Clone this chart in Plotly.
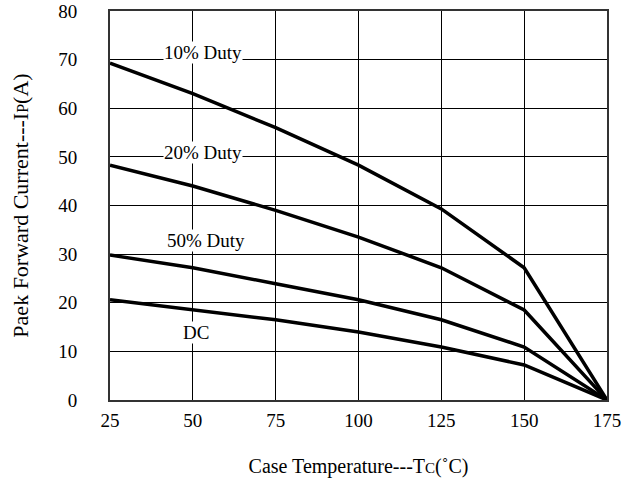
import plotly.graph_objects as go

temps = [25, 50, 75, 100, 125, 150, 175]
duty10 = [69.3, 63.0, 56.0, 48.3, 39.3, 27.2, 0]
duty20 = [48.3, 44.0, 39.0, 33.5, 27.2, 18.5, 0]
duty50 = [29.8, 27.2, 23.9, 20.6, 16.5, 10.9, 0]
dc = [20.6, 18.5, 16.5, 14.0, 10.9, 7.2, 0]

label_text = ["10% Duty", "20% Duty", "50% Duty", "DC"]
label_x = [53, 53, 54, 51]
label_y = [71.4, 51.0, 32.9, 13.9]

FONT = "Liberation Serif, Times New Roman, serif"

fig = go.Figure()
for ys in [duty10, duty20, duty50, dc]:
    fig.add_trace(go.Scatter(x=temps, y=ys, mode="lines",
                             line=dict(color="black", width=3.5),
                             showlegend=False, hoverinfo="skip"))

for t, x, y in zip(label_text, label_x, label_y):
    fig.add_annotation(x=x, y=y, text=t, showarrow=False,
                       font=dict(family=FONT, size=19, color="black"),
                       bgcolor="white", borderpad=0)

fig.update_layout(
    width=639, height=486,
    margin=dict(l=110, r=32, t=11, b=86),
    plot_bgcolor="white", paper_bgcolor="white",
    font=dict(family=FONT, size=19, color="black"),
)
fig.update_xaxes(range=[25, 175], tickvals=temps, showgrid=True,
                 gridcolor="black", gridwidth=1, showline=True,
                 linecolor="#333", linewidth=2, mirror=True, zeroline=False,
                 ticks="", ticklabelstandoff=2, automargin=False,
                 tickfont=dict(family=FONT, size=19),
                 title=dict(text="Case Temperature---T<span style='font-size:15px'>C</span>(˚C)",
                            font=dict(family=FONT, size=20), standoff=29))
fig.update_yaxes(range=[0, 80], tickvals=list(range(0, 81, 10)), showgrid=True,
                 gridcolor="black", gridwidth=1, showline=True,
                 linecolor="#333", linewidth=2, mirror=True, zeroline=False,
                 ticks="", ticklabelstandoff=27, automargin=False,
                 tickfont=dict(family=FONT, size=19),
                 title=dict(text="Paek Forward Current---I<span style='font-size:16px'>P</span>(A)",
                            font=dict(family=FONT, size=22), standoff=24))

fig.write_html("out.html")
